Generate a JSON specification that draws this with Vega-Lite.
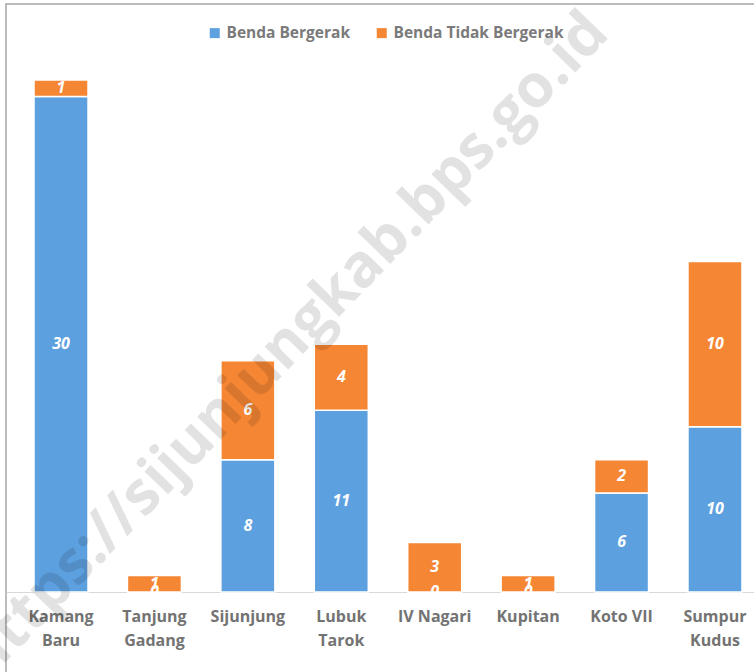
{
  "$schema": "https://vega.github.io/schema/vega-lite/v6.json",
  "width": 764,
  "height": 676,
  "autosize": {"type": "none"},
  "padding": {"left": 6, "top": 4, "right": 0, "bottom": 0},
  "background": "white",
  "config": {
    "view": {"stroke": "#a6a6a6", "strokeWidth": 1.5},
    "font": "Open Sans"
  },
  "data": {
    "values": [
      {"kecamatan": "Kamang Baru", "jenis": "Benda Bergerak", "urut": 1, "jumlah": 30},
      {"kecamatan": "Kamang Baru", "jenis": "Benda Tidak Bergerak", "urut": 2, "jumlah": 1},
      {"kecamatan": "Tanjung Gadang", "jenis": "Benda Bergerak", "urut": 1, "jumlah": 0},
      {"kecamatan": "Tanjung Gadang", "jenis": "Benda Tidak Bergerak", "urut": 2, "jumlah": 1},
      {"kecamatan": "Sijunjung", "jenis": "Benda Bergerak", "urut": 1, "jumlah": 8},
      {"kecamatan": "Sijunjung", "jenis": "Benda Tidak Bergerak", "urut": 2, "jumlah": 6},
      {"kecamatan": "Lubuk Tarok", "jenis": "Benda Bergerak", "urut": 1, "jumlah": 11},
      {"kecamatan": "Lubuk Tarok", "jenis": "Benda Tidak Bergerak", "urut": 2, "jumlah": 4},
      {"kecamatan": "IV Nagari", "jenis": "Benda Bergerak", "urut": 1, "jumlah": 0},
      {"kecamatan": "IV Nagari", "jenis": "Benda Tidak Bergerak", "urut": 2, "jumlah": 3},
      {"kecamatan": "Kupitan", "jenis": "Benda Bergerak", "urut": 1, "jumlah": 0},
      {"kecamatan": "Kupitan", "jenis": "Benda Tidak Bergerak", "urut": 2, "jumlah": 1},
      {"kecamatan": "Koto VII", "jenis": "Benda Bergerak", "urut": 1, "jumlah": 6},
      {"kecamatan": "Koto VII", "jenis": "Benda Tidak Bergerak", "urut": 2, "jumlah": 2},
      {"kecamatan": "Sumpur Kudus", "jenis": "Benda Bergerak", "urut": 1, "jumlah": 10},
      {"kecamatan": "Sumpur Kudus", "jenis": "Benda Tidak Bergerak", "urut": 2, "jumlah": 10}
    ]
  },
  "layer": [
    {
      "transform": [
        {"stack": "jumlah", "groupby": ["kecamatan"], "sort": [{"field": "urut"}], "as": ["v0", "v1"]}
      ],
      "mark": {"type": "bar", "stroke": "white", "strokeWidth": 1.5},
      "encoding": {
        "x": {
          "field": "kecamatan",
          "type": "nominal",
          "sort": null,
          "scale": {"paddingInner": 0.422, "paddingOuter": 0.3},
          "axis": {
            "orient": "bottom",
            "offset": -88,
            "title": null,
            "ticks": false,
            "domainColor": "#d9d9d9",
            "domainWidth": 1,
            "labelAngle": 0,
            "labelFont": "Open Sans",
            "labelFontSize": 16,
            "labelFontWeight": "bold",
            "labelColor": "#737373",
            "labelPadding": 16,
            "labelLineHeight": 24,
            "labelLimit": 200,
            "labelExpr": "datum.label == 'Kamang Baru' ? ['Kamang','Baru'] : datum.label == 'Tanjung Gadang' ? ['Tanjung','Gadang'] : datum.label == 'Lubuk Tarok' ? ['Lubuk','Tarok'] : datum.label == 'Sumpur Kudus' ? ['Sumpur','Kudus'] : datum.label"
          }
        },
        "y": {
          "field": "v0",
          "type": "quantitative",
          "scale": {"domain": [-5.327, 35.593], "nice": false, "zero": false},
          "axis": null
        },
        "y2": {"field": "v1"},
        "color": {
          "field": "jenis",
          "type": "nominal",
          "scale": {"domain": ["Benda Bergerak", "Benda Tidak Bergerak"], "range": ["#5DA0DF", "#F58634"]},
          "legend": {
            "title": null,
            "orient": "none",
            "legendX": 201,
            "legendY": 21,
            "direction": "horizontal",
            "symbolType": "square",
            "symbolSize": 100,
            "symbolStrokeWidth": 0,
            "labelFont": "Open Sans",
            "labelFontSize": 15.5,
            "labelFontWeight": "bold",
            "labelColor": "#7a7a7a",
            "labelOffset": 4,
            "labelLimit": 300,
            "columnPadding": 24
          }
        }
      }
    },
    {
      "transform": [
        {"stack": "jumlah", "groupby": ["kecamatan"], "sort": [{"field": "urut"}], "as": ["v0", "v1"]},
        {"calculate": "(datum.v0 + datum.v1) / 2", "as": "mid"}
      ],
      "mark": {"type": "text", "color": "white", "fontSize": 16, "fontWeight": "bold", "fontStyle": "italic", "baseline": "middle", "align": "center"},
      "encoding": {
        "x": {"field": "kecamatan", "type": "nominal", "sort": null},
        "y": {"field": "mid", "type": "quantitative"},
        "text": {"field": "jumlah", "type": "quantitative"}
      }
    },
    {
      "data": {"values": [{"t": "https://sijunjungkab.bps.go.id"}]},
      "mark": {"type": "text", "angle": -46, "fontSize": 60, "fontWeight": "bold", "color": "#000000", "opacity": 0.11, "align": "center", "baseline": "middle", "dx": 55},
      "encoding": {
        "x": {"datum": "Sijunjung"},
        "y": {"datum": 12.5},
        "text": {"field": "t", "type": "nominal"}
      }
    }
  ]
}
